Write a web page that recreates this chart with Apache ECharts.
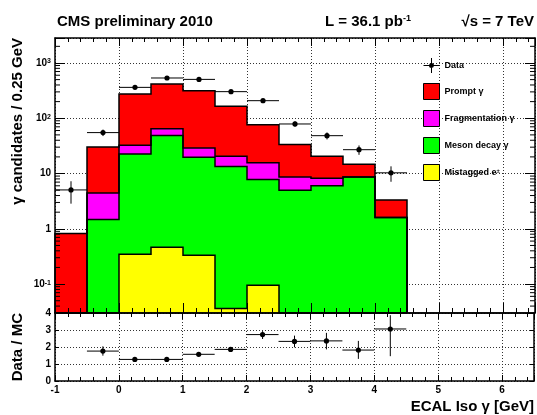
<!DOCTYPE html>
<html>
<head>
<meta charset="utf-8">
<script src="https://cdn.jsdelivr.net/npm/echarts@6/dist/echarts.min.js"></script>
<style>
  html, body { margin: 0; padding: 0; background: #fff; }
  #chart { width: 537px; height: 415px; }
</style>
</head>
<body>
<div id="chart"></div>
<script>
// ECAL isolation bins (GeV): lower edges, fixed width
const binLo = [-1, -0.5, 0, 0.5, 1, 1.5, 2, 2.5, 3, 3.5, 4];
const binWidth = 0.5;

// Simulated contributions per bin (stacked bottom -> top: mistagged, meson, fragmentation, prompt)
const promptGamma = [0.82, 25.9, 243.5, 352, 287, 143.5, 60.9, 24.7, 12.3, 6.0, 1.73];
const fragGamma   = [0, 2.98, 9.9, 15.9, 9.4, 7.2, 7.8, 3.7, 2.15, 0, 0];
const mesonGamma  = [0, 1.47, 22.25, 48.5, 19.3, 13.3, 7.7, 4.97, 6.04, 8.67, 1.6];
const mistagE     = [0, 0, 0.346, 0.464, 0.332, 0.036, 0.095, 0, 0, 0, 0];

// Observed candidates per bin and their uncertainties
const dataCounts = [5.05, 55, 362, 535, 505, 303, 208, 78.8, 48.4, 27, 10.3];
const dataErr    = [2.2, 7.4, 19, 23, 22.5, 17.4, 14.4, 8.9, 7.0, 5.2, 3.2];

// Data / MC ratio points with error band limits
const ratioX    = [-0.25, 0.25, 0.75, 1.25, 1.75, 2.25, 2.75, 3.25, 3.75, 4.25];
const ratioVal  = [1.76, 1.27, 1.27, 1.57, 1.86, 2.73, 2.33, 2.36, 1.82, 3.06];
const ratioLow  = [1.49, 1.22, 1.22, 1.51, 1.79, 2.47, 1.98, 1.86, 1.30, 1.46];
const ratioHigh = [2.04, 1.32, 1.32, 1.63, 1.93, 2.93, 2.67, 2.83, 2.36, 3.87];

// Axis ranges
const xMin = -1, xMax = 6.5;
const yMin = 0.03, yMax = 2830;
const ratioMin = 0, ratioMax = 4;
const minorMultipliers = [2, 3, 4, 5, 6, 7, 8, 9];

const FONT = '"Liberation Sans", Arial, sans-serif';

const layers = [
  { name: 'Mistagged e±', values: mistagE, color: '#ffff00' },
  { name: 'Meson decay γ', values: mesonGamma, color: '#00ff00' },
  { name: 'Fragmentation γ', values: fragGamma, color: '#ff00ff' },
  { name: 'Prompt γ', values: promptGamma, color: '#ff0000' }
];
let running = binLo.map(() => 0);
layers.forEach(l => {
  l.lo = running.slice();
  running = running.map((r, i) => r + l.values[i]);
  l.hi = running.slice();
});

// log minor tick values between the axis limits
const minorLogTicks = [];
for (let e = -2; e <= 3; e++) {
  minorMultipliers.forEach(m => {
    const v = m * Math.pow(10, e);
    if (v > yMin && v < yMax) minorLogTicks.push(v);
  });
}

const chart = echarts.init(document.getElementById('chart'), null, { renderer: 'canvas' });

const G0 = { left: 55, top: 38, width: 480, height: 275 };
const G1 = { left: 55, top: 313, width: 480, height: 68 };

const frameLine = { show: true, onZero: false, lineStyle: { color: '#000', width: 1.5 } };
const dotted = { show: true, lineStyle: { color: '#333', width: 1, type: [1, 2] } };

function xAx(grid, pos, extra) {
  return Object.assign({
    type: 'value', gridIndex: grid, position: pos, min: xMin, max: xMax, interval: 1,
    axisLine: { show: false, onZero: false }, axisTick: { show: false },
    axisLabel: { show: false }, splitLine: { show: false }
  }, extra);
}
function ticks(len) {
  return { show: true, inside: true, length: len, lineStyle: { color: '#000', width: 1 } };
}

const xAxes = [
  xAx(0, 'bottom', { splitLine: dotted, z: 0 }),                          // 0 grid lines
  xAx(0, 'bottom', { axisLine: frameLine, axisTick: ticks(10), z: 10 }),  // 1
  xAx(0, 'bottom', { interval: 0.2, axisTick: ticks(5), z: 10 }),         // 2
  xAx(0, 'top', { axisLine: frameLine, axisTick: ticks(8), z: 10 }),      // 3
  xAx(0, 'top', { interval: 0.2, axisTick: ticks(4), z: 10 }),            // 4
  xAx(1, 'bottom', { splitLine: dotted, z: 0 }),                          // 5 grid lines
  xAx(1, 'bottom', {
    axisLine: frameLine, axisTick: ticks(6), z: 10,
    axisLabel: {
      show: true, margin: 4, color: '#000', fontFamily: FONT, fontWeight: 'bold', fontSize: 10,
      formatter: v => (Math.abs(v - Math.round(v)) < 1e-6 ? String(Math.round(v)) : '')
    }
  }),                                                                     // 6
  xAx(1, 'bottom', { interval: 0.2, axisTick: ticks(4), z: 10 }),         // 7
  xAx(1, 'top', { axisLine: frameLine, axisTick: ticks(6), z: 10 }),      // 8
  xAx(1, 'top', { interval: 0.2, axisTick: ticks(4), z: 10 })             // 9
];

function logLabel(v) {
  const e = Math.log10(v);
  const k = Math.round(e);
  if (Math.abs(e - k) > 1e-6) return '';
  if (k === 0) return '{b|1}';
  if (k === 1) return '{b|10}';
  return '{b|10}{s|' + k + '}';
}

function yLog(pos, extra) {
  return Object.assign({
    type: 'log', logBase: 10, gridIndex: 0, position: pos, min: yMin, max: yMax,
    axisLine: { show: false, onZero: false }, axisTick: { show: false },
    axisLabel: { show: false }, splitLine: { show: false }
  }, extra);
}
function yRatio(pos, extra) {
  return Object.assign({
    type: 'value', gridIndex: 1, position: pos, min: ratioMin, max: ratioMax, interval: 1,
    axisLine: { show: false, onZero: false }, axisTick: { show: false },
    axisLabel: { show: false }, splitLine: { show: false }
  }, extra);
}

const yAxes = [
  yLog('left', { splitLine: dotted, z: 0 }),                              // 0 grid lines
  yLog('left', {
    axisLine: frameLine, axisTick: ticks(10), z: 10,
    axisLabel: {
      show: true, margin: 4, color: '#000', formatter: logLabel,
      rich: {
        b: { fontFamily: FONT, fontWeight: 'bold', fontSize: 10, color: '#000' },
        s: { fontFamily: FONT, fontWeight: 'bold', fontSize: 7, color: '#000', verticalAlign: 'top' }
      }
    }
  }),                                                                     // 1
  yLog('right', { axisLine: frameLine, axisTick: ticks(10), z: 10 }),     // 2
  yRatio('left', { splitLine: dotted, z: 0 }),                            // 3 grid lines
  yRatio('left', {
    axisLine: frameLine, axisTick: ticks(4), z: 10,
    axisLabel: { show: true, margin: 4, color: '#000', fontFamily: FONT, fontWeight: 'bold', fontSize: 10 }
  }),                                                                     // 4
  yRatio('right', { axisLine: frameLine, axisTick: ticks(4), z: 10 })     // 5
];

// filled band of one stacked component per bin
function bandItem(params, api) {
  const p0 = api.coord([api.value(0), api.value(3)]);
  const p1 = api.coord([api.value(1), api.value(2)]);
  return {
    type: 'rect',
    shape: { x: p0[0], y: p0[1], width: p1[0] - p0[0], height: p1[1] - p0[1] },
    style: { fill: api.visual('color') }
  };
}

const fillSeries = layers.slice().reverse().map(l => ({
  type: 'custom', name: l.name, xAxisIndex: 0, yAxisIndex: 0, z: 2, silent: true,
  itemStyle: { color: l.color },
  encode: { x: [0, 1], y: [2, 3] },
  renderItem: bandItem,
  data: binLo.map((x, i) => [x, x + binWidth, Math.max(l.lo[i], yMin), Math.max(l.hi[i], yMin)])
    .filter((d, i) => l.values[i] > 0)
}));

// black step outline of each cumulative histogram
const outlineOrder = layers.slice().reverse();
const outlineSeries = {
  type: 'custom', xAxisIndex: 0, yAxisIndex: 0, z: 3, silent: true,
  encode: { x: 0, y: 1 },
  data: outlineOrder.map(() => [xMin, yMin]),
  renderItem: function (params, api) {
    const l = outlineOrder[params.dataIndex];
    const top = i => Math.max(l.hi[i], yMin);
    const pts = [api.coord([binLo[0], yMin])];
    binLo.forEach((x, i) => {
      pts.push(api.coord([x, top(i)]));
      pts.push(api.coord([x + binWidth, top(i)]));
    });
    pts.push(api.coord([binLo[binLo.length - 1] + binWidth, yMin]));
    return { type: 'polyline', shape: { points: pts }, style: { stroke: '#000', lineWidth: 1.5, fill: null } };
  }
};

// point with horizontal (bin width) and vertical error bars
function errItem(params, api) {
  const x = api.value(0), y = api.value(1), lo = api.value(2), hi = api.value(3), hw = api.value(4);
  const c = api.coord([x, y]);
  const l = api.coord([x - hw, y]);
  const r = api.coord([x + hw, y]);
  const b = api.coord([x, lo]);
  const t = api.coord([x, hi]);
  return {
    type: 'group',
    children: [
      { type: 'line', shape: { x1: l[0], y1: c[1], x2: r[0], y2: c[1] }, style: { stroke: '#000', lineWidth: 1 } },
      { type: 'line', shape: { x1: c[0], y1: b[1], x2: c[0], y2: t[1] }, style: { stroke: '#000', lineWidth: 1 } },
      { type: 'circle', shape: { cx: c[0], cy: c[1], r: 2.6 }, style: { fill: '#000' } }
    ]
  };
}

const dataSeries = {
  type: 'custom', name: 'Data', xAxisIndex: 0, yAxisIndex: 0, z: 4, silent: true,
  itemStyle: { color: '#000' },
  encode: { x: 0, y: 1 },
  renderItem: errItem,
  data: binLo.map((x, i) => [x + binWidth / 2, dataCounts[i], dataCounts[i] - dataErr[i], dataCounts[i] + dataErr[i], binWidth / 2])
};

const ratioSeries = {
  type: 'custom', name: 'Data / MC', xAxisIndex: 5, yAxisIndex: 3, z: 4, silent: true,
  itemStyle: { color: '#000' },
  encode: { x: 0, y: 1 },
  renderItem: errItem,
  data: ratioX.map((x, i) => [x, ratioVal[i], ratioLow[i], ratioHigh[i], binWidth / 2])
};

// minor ticks of the logarithmic axis on both frame sides
const logMinorSeries = {
  type: 'custom', xAxisIndex: 0, yAxisIndex: 0, z: 12, silent: true,
  encode: { x: 0, y: 1 },
  data: minorLogTicks.map(v => [xMin, v]),
  renderItem: function (params, api) {
    const pl = api.coord([xMin, api.value(1)]);
    const pr = api.coord([xMax, api.value(1)]);
    return {
      type: 'group',
      children: [
        { type: 'line', shape: { x1: pl[0], y1: pl[1], x2: pl[0] + 5, y2: pl[1] }, style: { stroke: '#000', lineWidth: 1 } },
        { type: 'line', shape: { x1: pr[0], y1: pr[1], x2: pr[0] - 5, y2: pr[1] }, style: { stroke: '#000', lineWidth: 1 } }
      ]
    };
  }
};

const dataIcon = 'path://M0,7.5H16V8.5H0Z M7.5,0.5H8.5V15.5H7.5Z M8,5.5A2.5,2.5,0,1,1,7.99,5.5Z';

const option = {
  animation: false,
  backgroundColor: '#fff',
  grid: [G0, G1],
  xAxis: xAxes,
  yAxis: yAxes,
  legend: {
    orient: 'vertical', left: 418, top: 53,
    itemWidth: 16, itemHeight: 16, itemGap: 10,
    selectedMode: false,
    textStyle: {
      fontFamily: FONT, fontWeight: 'bold', fontSize: 9, color: '#000',
      rich: {
        t: { fontFamily: FONT, fontWeight: 'bold', fontSize: 9, color: '#000' },
        s: { fontFamily: FONT, fontWeight: 'bold', fontSize: 6, color: '#000', verticalAlign: 'top' }
      }
    },
    formatter: name => (name === 'Mistagged e±' ? '{t|Mistagged e}{s|±}' : name),
    data: [
      { name: 'Data', icon: dataIcon, itemStyle: { color: '#000', borderWidth: 0 } },
      { name: 'Prompt γ', icon: 'rect', itemStyle: { color: '#ff0000', borderColor: '#000', borderWidth: 1 } },
      { name: 'Fragmentation γ', icon: 'rect', itemStyle: { color: '#ff00ff', borderColor: '#000', borderWidth: 1 } },
      { name: 'Meson decay γ', icon: 'rect', itemStyle: { color: '#00ff00', borderColor: '#000', borderWidth: 1 } },
      { name: 'Mistagged e±', icon: 'rect', itemStyle: { color: '#ffff00', borderColor: '#000', borderWidth: 1 } }
    ]
  },
  graphic: [
    {
      type: 'text', x: 57, y: 22, z: 20,
      style: { text: 'CMS preliminary 2010', fill: '#000', font: 'bold 15px ' + FONT, verticalAlign: 'middle' }
    },
    {
      type: 'text', x: 325, y: 22, z: 20,
      style: {
        text: '{a|L = 36.1 pb}{b|-1}', verticalAlign: 'middle',
        rich: {
          a: { fill: '#000', font: 'bold 15px ' + FONT },
          b: { fill: '#000', font: 'bold 9px ' + FONT, verticalAlign: 'top' }
        }
      }
    },
    {
      type: 'text', x: 534, y: 22, z: 20,
      style: { text: '√s = 7 TeV', fill: '#000', font: 'bold 15px ' + FONT, align: 'right', verticalAlign: 'middle' }
    },
    {
      type: 'text', x: 18, y: 38, rotation: Math.PI / 2, z: 20,
      style: { text: 'γ candidates / 0.25 GeV', fill: '#000', font: 'bold 15px ' + FONT, align: 'right', verticalAlign: 'middle' }
    },
    {
      type: 'text', x: 18, y: 313, rotation: Math.PI / 2, z: 20,
      style: { text: 'Data / MC', fill: '#000', font: 'bold 15px ' + FONT, align: 'right', verticalAlign: 'middle' }
    },
    {
      type: 'text', x: 534, y: 407, z: 20,
      style: { text: 'ECAL Iso γ [GeV]', fill: '#000', font: 'bold 15px ' + FONT, align: 'right', verticalAlign: 'middle' }
    }
  ],
  series: fillSeries.concat([outlineSeries, dataSeries, ratioSeries, logMinorSeries])
};

chart.setOption(option);
</script>
</body>
</html>
